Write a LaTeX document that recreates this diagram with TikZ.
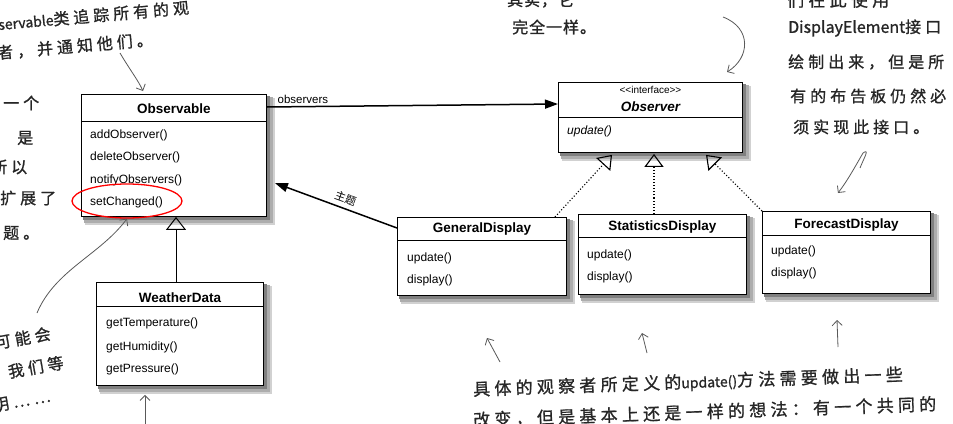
\documentclass[tikz,border=0pt]{standalone}
\usepackage{fontspec}
\setmainfont{Liberation Sans}
\newfontfamily\handcjk[LetterSpace=25, FakeBold=1]{Noto Sans CJK SC}
\newfontfamily\handtight[LetterSpace=6, FakeBold=1]{Noto Sans CJK SC}
\newfontfamily\handlat[FakeBold=1]{Noto Sans CJK SC}
\newfontfamily\cjkplain{Noto Sans CJK SC}
\newcommand{\hlat}[1]{{\handlat\fontsize{14}{14}\selectfont #1}}
\usetikzlibrary{arrows.meta,calc,shapes.geometric}
\pgfdeclarelayer{back}
\pgfdeclarelayer{shad}
\pgfsetlayers{back,shad,main}
\newcommand{\boxshadow}[1]{%
  \begin{pgfonlayer}{shad}
    \fill[black!18] ($(#1.north west)+(4,4)$) rectangle ($(#1.south east)+(8,8)$);
    \fill[black!32] ($(#1.north west)+(3,3)$) rectangle ($(#1.south east)+(6,6)$);
    \fill[black!50] ($(#1.north west)+(2,2)$) rectangle ($(#1.south east)+(3.5,3.5)$);
  \end{pgfonlayer}}
\begin{document}
\begin{tikzpicture}[x=1pt,y=-1pt,
  umlbox/.style={draw=black, line width=0.9pt, fill=white, inner sep=0pt, anchor=north west},
  sepline/.style={line width=0.9pt},
  ctitle/.style={font=\fontsize{13.5}{14}\selectfont\bfseries, inner sep=0pt},
  meth/.style={font=\fontsize{12}{13}\selectfont, anchor=west, inner sep=0pt},
  hand/.style={font=\handcjk\fontsize{16}{16}\selectfont, anchor=west, inner sep=0pt, text=black!85},
  harrow/.style={draw=black!65, line width=0.8pt, -{Straight Barb[length=5pt,width=10pt]}},
  gen/.style={line width=1pt, -{Triangle[open, length=13pt, width=20pt, line width=1pt]}},
  real/.style={line width=1.1pt, dotted, -{Triangle[open, length=13pt, width=19pt, line width=1.1pt]}},
  assoc/.style={line width=1.5pt, -{Triangle[length=13pt, width=9pt]}}
]
\useasboundingbox (0,0) rectangle (953,423);
\begin{pgfonlayer}{back}
\fill[white] (0,0) rectangle (953,423);
\end{pgfonlayer}
\clip (0,0) rectangle (953,423);

% ---------- Observable ----------
\node[umlbox, minimum width=185pt, minimum height=122pt] (obs) at (81,94) {};
\boxshadow{obs}
\draw[sepline] ($(obs.north west)+(0,27)$) -- ($(obs.north east)+(0,27)$);
\node[ctitle] (obsT) at ($(obs.north)+(0,15)$) {Observable};
\node[meth] (obsM1) at ($(obs.north west)+(9,41)$) {addObserver()};
\node[meth] (obsM2) at ($(obs.north west)+(9,63)$) {deleteObserver()};
\node[meth] (obsM3) at ($(obs.north west)+(9,86)$) {notifyObservers()};
\node[meth] (obsM4) at ($(obs.north west)+(9,108)$) {setChanged()};
\node[draw=red, line width=1.3pt, ellipse, minimum width=110pt, minimum height=34pt, inner sep=0pt] (ell) at (127,201) {};

% ---------- WeatherData ----------
\node[umlbox, minimum width=167pt, minimum height=103pt] (wd) at (96,282) {};
\boxshadow{wd}
\draw[sepline] ($(wd.north west)+(0,24)$) -- ($(wd.north east)+(0,24)$);
\node[ctitle] (wdT) at ($(wd.north)+(0,16)$) {WeatherData};
\node[meth] (wdM1) at ($(wd.north west)+(10,41)$) {getTemperature()};
\node[meth] (wdM2) at ($(wd.north west)+(10,65)$) {getHumidity()};
\node[meth] (wdM3) at ($(wd.north west)+(10,87)$) {getPressure()};

% ---------- Observer ----------
\node[umlbox, minimum width=184pt, minimum height=70pt] (obsr) at (558,82) {};
\boxshadow{obsr}
\draw[sepline] ($(obsr.north west)+(0,35)$) -- ($(obsr.north east)+(0,35)$);
\node[inner sep=0pt, font=\fontsize{10}{10}\selectfont] (obsrS) at ($(obsr.north)+(0,8)$) {<\kern0pt<interface>\kern0pt>};
\node[ctitle, font=\fontsize{13.5}{14}\selectfont\bfseries\itshape] (obsrT) at ($(obsr.north)+(0,25)$) {Observer};
\node[meth, font=\fontsize{12}{13}\selectfont\itshape] (obsrM1) at ($(obsr.north west)+(9,49)$) {update()};

% ---------- GeneralDisplay ----------
\node[umlbox, minimum width=169pt, minimum height=78pt] (gd) at (397,217) {};
\boxshadow{gd}
\draw[sepline] ($(gd.north west)+(0,23)$) -- ($(gd.north east)+(0,23)$);
\node[ctitle] (gdT) at ($(gd.north)+(0,12)$) {GeneralDisplay};
\node[meth] (gdM1) at ($(gd.north west)+(10,41)$) {update()};
\node[meth] (gdM2) at ($(gd.north west)+(10,63)$) {display()};

% ---------- StatisticsDisplay ----------
\node[umlbox, minimum width=168pt, minimum height=80pt] (sd) at (578,214) {};
\boxshadow{sd}
\draw[sepline] ($(sd.north west)+(0,23)$) -- ($(sd.north east)+(0,23)$);
\node[ctitle] (sdT) at ($(sd.north)+(0,13)$) {StatisticsDisplay};
\node[meth] (sdM1) at ($(sd.north west)+(9,41)$) {update()};
\node[meth] (sdM2) at ($(sd.north west)+(9,63)$) {display()};

% ---------- ForecastDisplay ----------
\node[umlbox, minimum width=168pt, minimum height=82pt] (fd) at (762,211) {};
\boxshadow{fd}
\draw[sepline] ($(fd.north west)+(0,24)$) -- ($(fd.north east)+(0,24)$);
\node[ctitle] (fdT) at ($(fd.north)+(0,14)$) {ForecastDisplay};
\node[meth] (fdM1) at ($(fd.north west)+(9,40)$) {update()};
\node[meth] (fdM2) at ($(fd.north west)+(9,62)$) {display()};

% ---------- UML connectors ----------
\draw[gen] ($(wd.north west)+(80,0)$) -- ($(obs.south west)+(95,0)$);
\draw[assoc] ($(obs.north east)+(0,13)$) -- ($(obsr.north west)+(0,22)$)
  node[pos=0, anchor=south west, inner sep=0pt, xshift=10pt, yshift=3pt, font=\fontsize{11.5}{12}\selectfont] (lblobs) {observers};
\draw[assoc] ($(gd.north west)+(0,11)$) -- ($(obs.north east)+(8,89)$)
  node[pos=0.45, anchor=south, rotate=-20, inner sep=4.5pt, font=\cjkplain\fontsize{11}{11}\selectfont] (lblsub) {主题};
\draw[real] ($(gd.north west)+(158,0)$) -- ($(obsr.south west)+(54,2)$);
\draw[real] ($(sd.north west)+(76,0)$) -- ($(obsr.south west)+(96,1)$);
\draw[real] (fd.north west) -- ($(obsr.south west)+(148,2)$);

% ---------- handwritten notes ----------
\node[hand, rotate=5] (t1) at (-2,24) {\hlat{servable}类追踪所有的观};
\node[hand, rotate=5] (t2) at (-3,53) {者，并通知他们。};
\node[hand] (t3) at (3,103) {一个};
\node[hand] (t4) at (17,138) {是};
\node[hand] (t5) at (-9,167) {所以};
\node[hand] (t6) at (0,198) {扩展了};
\node[hand] (t7) at (3,233) {题。};
\node[hand, rotate=10] (t8) at (-5,343) {可能会};
\node[hand, rotate=10] (t9) at (8,372) {我们等};
\node[hand, rotate=10] (t10) at (-7,406) {明……};
\node[hand, font=\handtight\fontsize{16}{16}\selectfont] (t11) at (507,0) {其实，它};
\node[hand, font=\handtight\fontsize{16}{16}\selectfont] (t12) at (512,27) {完全一样。};
\node[hand, font=\handcjk\fontsize{17}{17}\selectfont] (t13) at (787,0) {们在此使用};
\node[hand] (t14) at (788,28) {{\handlat\fontsize{16}{16}\selectfont DisplayElement}接口};
\node[hand] (t15) at (788,62) {绘制出来，但是所};
\node[hand] (t16) at (790,96) {有的布告板仍然必};
\node[hand] (t17) at (793,127) {须实现此接口。};
\node[hand, rotate=2, font=\handcjk\fontsize{17}{17}\selectfont] (t18) at (473,390) {具体的观察者所定义的\hlat{update()}方法需要做出一些};
\node[hand, rotate=2, font=\handcjk\fontsize{17}{17}\selectfont] (t19) at (473,420) {改变，但是基本上还是一样的想法：有一个共同的};

% ---------- handwritten arrows ----------
\coordinate (h1) at (120,53);
\draw[harrow] (h1) .. controls (130,70) and (138,80) .. ($(obs.north west)+(62,-3)$);
\coordinate (h2) at (37,313);
\draw[harrow] (h2) .. controls (55,270) and (100,255) .. (ell.south);
\coordinate (h3) at (145,425);
\draw[harrow] (h3) -- ($(wd.south west)+(49,9)$);
\coordinate (h4) at (723,17);
\coordinate (h4e) at (727,72);
\draw[harrow] (h4) .. controls (752,28) and (750,58) .. (h4e);
\coordinate (h5) at (860,168);
\coordinate (h5e) at (838,193);
\draw[harrow] (h5) .. controls (864,158) and (870,148) .. (863,153) .. controls (856,165) and (848,180) .. (h5e);
\coordinate (h6) at (500,362);
\coordinate (h6e) at (487,338);
\draw[harrow] (h6) -- (h6e);
\coordinate (h7) at (647,353);
\coordinate (h7e) at (642,333);
\draw[harrow] (h7) -- (h7e);
\coordinate (h8) at (838,347);
\coordinate (h8e) at (837,320);
\draw[harrow] (h8) -- (h8e);
\end{tikzpicture}
\end{document}
